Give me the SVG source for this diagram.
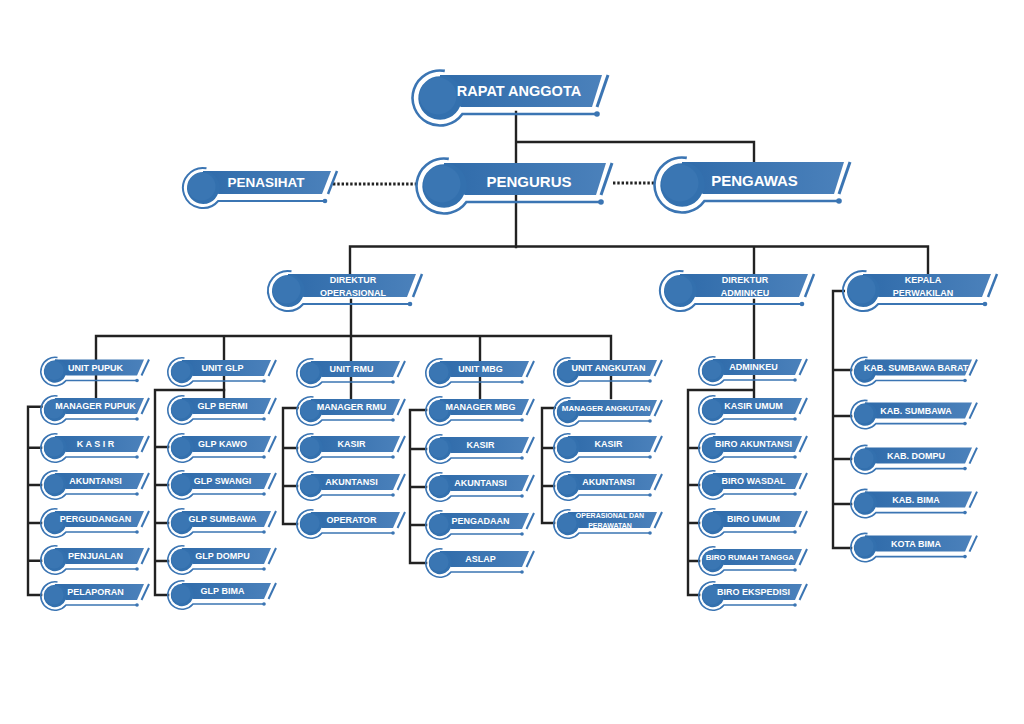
<svg xmlns="http://www.w3.org/2000/svg" width="1024" height="724" viewBox="0 0 1024 724">
<style>
.t{font-family:"Liberation Sans",Arial,sans-serif;font-weight:bold;fill:#fff;text-anchor:middle;font-size:9px}
.ln{fill:none;stroke:#222;stroke-width:2.4;stroke-linecap:square}
.dot{fill:none;stroke:#222;stroke-width:2.8;stroke-dasharray:2.4 1.9}
symbol{overflow:visible}
</style>
<defs>
<linearGradient id="bg" x1="0" x2="1" y1="0" y2="0"><stop offset="0" stop-color="#2f6baa"/><stop offset="1" stop-color="#4b81bb"/></linearGradient>
<symbol id="S" viewBox="0 0 110 30">
 <path d="M15 3H104L97 19H15Z" fill="url(#bg)"/>
 <path d="M109 3L101.5 19" fill="none" stroke="#3b75b3" stroke-width="2"/>
 <path d="M17.5 1A14.2 14.2 0 1 0 26 24H97" fill="none" stroke="#3b75b3" stroke-width="1.6"/>
 <circle cx="97" cy="24" r="1.8" fill="#3b75b3"/>
 <circle cx="15" cy="15" r="12" fill="#3370ae"/>
 <circle cx="14" cy="14" r="9.6" fill="#3a76b3"/>
 <path d="M15 3A12 12 0 1 0 26.3 19" fill="none" stroke="#fff" stroke-width="1.5"/>
</symbol>
<symbol id="W" viewBox="0 0 128 30">
 <path d="M15 3H122L115 19H15Z" fill="url(#bg)"/>
 <path d="M127 3L119.5 19" fill="none" stroke="#3b75b3" stroke-width="2"/>
 <path d="M17.5 1A14.2 14.2 0 1 0 26 24H115" fill="none" stroke="#3b75b3" stroke-width="1.6"/>
 <circle cx="115" cy="24" r="1.8" fill="#3b75b3"/>
 <circle cx="15" cy="15" r="12" fill="#3370ae"/>
 <circle cx="14" cy="14" r="9.6" fill="#3a76b3"/>
 <path d="M15 3A12 12 0 1 0 26.3 19" fill="none" stroke="#fff" stroke-width="1.5"/>
</symbol>
<symbol id="M" viewBox="0 0 156 42">
 <path d="M20 5H148L139 28H20Z" fill="url(#bg)"/>
 <path d="M154 5L145 28" fill="none" stroke="#3b75b3" stroke-width="2.5"/>
 <path d="M23.5 2.3A20 20 0 1 0 35.2 35H142" fill="none" stroke="#3b75b3" stroke-width="2"/>
 <circle cx="142" cy="35" r="2.3" fill="#3b75b3"/>
 <circle cx="20" cy="22" r="17" fill="#3370ae"/>
 <circle cx="18.5" cy="20.5" r="14" fill="#3a76b3"/>
 <path d="M20 5A17 17 0 1 0 35.9 28" fill="none" stroke="#fff" stroke-width="2"/>
</symbol>
<symbol id="L" viewBox="0 0 200 56">
 <path d="M27 5H189L179 37H27Z" fill="url(#bg)"/>
 <path d="M195 5L184 37" fill="none" stroke="#3b75b3" stroke-width="3"/>
 <path d="M31.8 0.9A27.5 27.5 0 1 0 49.4 44H184" fill="none" stroke="#3b75b3" stroke-width="2.6"/>
 <circle cx="184" cy="44" r="2.8" fill="#3b75b3"/>
 <circle cx="27" cy="28" r="23" fill="#3370ae"/>
 <circle cx="25" cy="26" r="18.5" fill="#3a76b3"/>
 <path d="M27 5A23 23 0 1 0 48.2 37" fill="none" stroke="#fff" stroke-width="2.6"/>
</symbol>
</defs>
<rect width="1024" height="724" fill="#fff"/>
<g id="connectors">
 <path class="ln" d="M516 112V247M516 142H754V163M350 274V246.5H928V274M754 246.5V275"/>
 <path class="ln" d="M351 300V398M96 398V336H611V398M224 336V398M480 336V398"/>
 <path class="ln" d="M754 300V400M754 390H688V595M688 448H700M688 485H700M688 523H700M688 561H700M688 595H700"/>
 <path class="ln" d="M846 291H833V548M833 370H852M833 416H852M833 459H852M833 504H852M833 548H852"/>
 <path class="ln" d="M28 406.7V595M28 406.7H42M28 447.7H42M28 485H42M28 523H42M28 560.7H42M28 595H42"/>
 <path class="ln" d="M224 390H155V595M155 447H169M155 485H169M155 523H169M155 561H169M155 595H169"/>
 <path class="ln" d="M283 408V524M283 408H298M283 448H298M283 486H298M283 524H298"/>
 <path class="ln" d="M410 410V563M410 410H427M410 449H427M410 487H427M410 525H427M410 563H427"/>
 <path class="ln" d="M542 408V523M542 408H555M542 448H555M542 486H555M542 523H555"/>
 <path class="dot" d="M333 184H418M613 183H656"/>
</g>
<g id="rapat"><use href="#L" x="413" y="70" width="200" height="56"/><text class="t" x="519" y="96.2" style="font-size:14.5px">RAPAT ANGGOTA</text></g>
<g id="pengurus"><use href="#L" x="417" y="158" width="200" height="56"/><text class="t" x="529" y="187" style="font-size:15px">PENGURUS</text></g>
<g id="pengawas"><use href="#L" x="655" y="157" width="200" height="56"/><text class="t" x="754.5" y="186.3" style="font-size:15px">PENGAWAS</text></g>
<g id="penasihat"><use href="#M" x="183" y="166" width="156" height="42"/><text class="t" x="266" y="187.3" style="font-size:13.5px">PENASIHAT</text></g>
<g id="dir-op"><use href="#M" x="268" y="269" width="156" height="42"/><text class="t" x="353" y="283">DIREKTUR</text><text class="t" x="353" y="295.5">OPERASIONAL</text></g>
<g id="dir-adm"><use href="#M" x="660" y="269" width="156" height="42"/><text class="t" x="745" y="283">DIREKTUR</text><text class="t" x="745" y="295.5">ADMINKEU</text></g>
<g id="kepala"><use href="#M" x="843" y="269" width="156" height="42"/><text class="t" x="923" y="283">KEPALA</text><text class="t" x="923" y="295.5">PERWAKILAN</text></g>

<g id="unit-pupuk"><use href="#S" x="40" y="356.5" width="110" height="30"/><text class="t" x="95.5" y="370.7">UNIT PUPUK</text></g>
<g id="manager-pupuk"><use href="#S" x="40" y="395" width="110" height="30"/><text class="t" x="95.5" y="409.2">MANAGER PUPUK</text></g>
<g id="kasir-pupuk"><use href="#S" x="40" y="433" width="110" height="30"/><text class="t" x="95.5" y="447.2">K A S I R</text></g>
<g id="akuntansi-pupuk"><use href="#S" x="40" y="470" width="110" height="30"/><text class="t" x="95.5" y="484.2">AKUNTANSI</text></g>
<g id="pergudangan"><use href="#S" x="40" y="508" width="110" height="30"/><text class="t" x="95.5" y="522.2">PERGUDANGAN</text></g>
<g id="penjualan"><use href="#S" x="40" y="545" width="110" height="30"/><text class="t" x="95.5" y="559.2">PENJUALAN</text></g>
<g id="pelaporan"><use href="#S" x="40" y="581" width="110" height="30"/><text class="t" x="95.5" y="595.2">PELAPORAN</text></g>

<g id="unit-glp"><use href="#S" x="167" y="357" width="110" height="30"/><text class="t" x="222.5" y="371.2">UNIT GLP</text></g>
<g id="glp-bermi"><use href="#S" x="167" y="395" width="110" height="30"/><text class="t" x="222.5" y="409.2">GLP BERMI</text></g>
<g id="glp-kawo"><use href="#S" x="167" y="433" width="110" height="30"/><text class="t" x="222.5" y="447.2">GLP KAWO</text></g>
<g id="glp-swangi"><use href="#S" x="167" y="470" width="110" height="30"/><text class="t" x="222.5" y="484.2">GLP SWANGI</text></g>
<g id="glp-sumbawa"><use href="#S" x="167" y="508" width="110" height="30"/><text class="t" x="222.5" y="522.2">GLP SUMBAWA</text></g>
<g id="glp-dompu"><use href="#S" x="167" y="545" width="110" height="30"/><text class="t" x="222.5" y="559.2">GLP DOMPU</text></g>
<g id="glp-bima"><use href="#S" x="167" y="580" width="110" height="30"/><text class="t" x="222.5" y="594.2">GLP BIMA</text></g>

<g id="unit-rmu"><use href="#S" x="296" y="358" width="110" height="30"/><text class="t" x="351.5" y="372.2">UNIT RMU</text></g>
<g id="manager-rmu"><use href="#S" x="296" y="396" width="110" height="30"/><text class="t" x="351.5" y="410.2">MANAGER RMU</text></g>
<g id="kasir-rmu"><use href="#S" x="296" y="433" width="110" height="30"/><text class="t" x="351.5" y="447.2">KASIR</text></g>
<g id="akuntansi-rmu"><use href="#S" x="296" y="471" width="110" height="30"/><text class="t" x="351.5" y="485.2">AKUNTANSI</text></g>
<g id="operator"><use href="#S" x="296" y="509" width="110" height="30"/><text class="t" x="351.5" y="523.2">OPERATOR</text></g>

<g id="unit-mbg"><use href="#S" x="425" y="358" width="110" height="30"/><text class="t" x="480.5" y="372.2">UNIT MBG</text></g>
<g id="manager-mbg"><use href="#S" x="425" y="396" width="110" height="30"/><text class="t" x="480.5" y="410.2">MANAGER MBG</text></g>
<g id="kasir-mbg"><use href="#S" x="425" y="434" width="110" height="30"/><text class="t" x="480.5" y="448.2">KASIR</text></g>
<g id="akuntansi-mbg"><use href="#S" x="425" y="472" width="110" height="30"/><text class="t" x="480.5" y="486.2">AKUNTANSI</text></g>
<g id="pengadaan"><use href="#S" x="425" y="510" width="110" height="30"/><text class="t" x="480.5" y="524.2">PENGADAAN</text></g>
<g id="aslap"><use href="#S" x="425" y="548" width="110" height="30"/><text class="t" x="480.5" y="562.2">ASLAP</text></g>

<g id="unit-angkutan"><use href="#S" x="553" y="357" width="110" height="30"/><text class="t" x="608.5" y="371.2">UNIT ANGKUTAN</text></g>
<g id="manager-angkutan"><use href="#S" x="553" y="397" width="110" height="30"/><text class="t" x="606" y="410.8" style="font-size:8px">MANAGER ANGKUTAN</text></g>
<g id="kasir-angkutan"><use href="#S" x="553" y="433" width="110" height="30"/><text class="t" x="608.5" y="447.2">KASIR</text></g>
<g id="akuntansi-angkutan"><use href="#S" x="553" y="471" width="110" height="30"/><text class="t" x="608.5" y="485.2">AKUNTANSI</text></g>
<g id="operasional"><use href="#S" x="553" y="509" width="110" height="30"/><text class="t" x="610" y="517.5" style="font-size:7px">OPERASIONAL DAN</text><text class="t" x="610" y="527.5" style="font-size:7px">PERAWATAN</text></g>

<g id="adminkeu"><use href="#S" x="698" y="356" width="110" height="30"/><text class="t" x="753.5" y="370.2">ADMINKEU</text></g>
<g id="kasir-umum"><use href="#S" x="698" y="395" width="110" height="30"/><text class="t" x="753.5" y="409.2">KASIR UMUM</text></g>
<g id="biro-akuntansi"><use href="#S" x="698" y="433" width="110" height="30"/><text class="t" x="753.5" y="447.2">BIRO AKUNTANSI</text></g>
<g id="biro-wasdal"><use href="#S" x="698" y="470" width="110" height="30"/><text class="t" x="753.5" y="484.2">BIRO WASDAL</text></g>
<g id="biro-umum"><use href="#S" x="698" y="508" width="110" height="30"/><text class="t" x="753.5" y="522.2">BIRO UMUM</text></g>
<g id="biro-rumah-tangga"><use href="#S" x="698" y="546" width="110" height="30"/><text class="t" x="750" y="559.8" style="font-size:8px">BIRO RUMAH TANGGA</text></g>
<g id="biro-ekspedisi"><use href="#S" x="698" y="581" width="110" height="30"/><text class="t" x="753.5" y="595.2">BIRO EKSPEDISI</text></g>

<g id="kab-sumbawa-barat"><use href="#W" x="850" y="356.5" width="128" height="30"/><text class="t" x="916" y="370.8">KAB. SUMBAWA BARAT</text></g>
<g id="kab-sumbawa"><use href="#W" x="850" y="399.6" width="128" height="30"/><text class="t" x="916" y="413.9">KAB. SUMBAWA</text></g>
<g id="kab-dompu"><use href="#W" x="850" y="444.6" width="128" height="30"/><text class="t" x="916" y="458.9">KAB. DOMPU</text></g>
<g id="kab-bima"><use href="#W" x="850" y="488.6" width="128" height="30"/><text class="t" x="916" y="502.9">KAB. BIMA</text></g>
<g id="kota-bima"><use href="#W" x="850" y="532.6" width="128" height="30"/><text class="t" x="916" y="546.9">KOTA BIMA</text></g>
</svg>
